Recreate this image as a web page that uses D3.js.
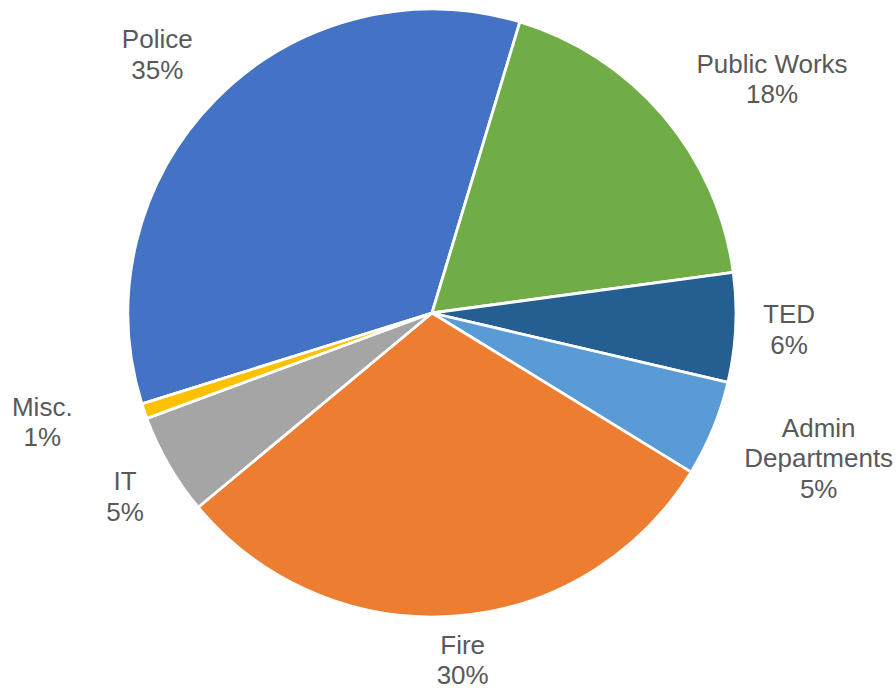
<!DOCTYPE html>
<html>
<head>
<meta charset="utf-8">
<script src="https://cdn.jsdelivr.net/npm/d3@7/dist/d3.min.js"></script>
<style>
  html, body { margin: 0; padding: 0; background: #ffffff; }
  svg { display: block; }
  text { font-family: "Liberation Sans", Arial, sans-serif; }
</style>
</head>
<body>
<svg id="chart" width="896" height="690"></svg>
<script>
// Budget share by department, listed clockwise starting with Police
const categories = ["Police", "Public Works", "TED", "Admin Departments", "Fire", "IT", "Misc."];
const labelLines = [["Police"], ["Public Works"], ["TED"], ["Admin", "Departments"], ["Fire"], ["IT"], ["Misc."]];
const shares = [34.5, 18.2, 5.8, 5.1, 30.2, 5.4, 0.8];
const colors = ["#4472C4", "#70AD47", "#255E91", "#5B9BD5", "#ED7D31", "#A5A5A5", "#FFC000"];

// Small per-label offsets that keep labels clear of each other
const labelNudge = [[-8, 5], [31, 29], [1, -1], [3, -13], [5, -13], [5, 3], [-42, -10]];

const width = 896, height = 690;
const cx = 432, cy = 313, radius = 304;
const firstSliceDeg = -107.4;
const lineH = 30.5, fontSize = 26, labelGap = 25;

const svg = d3.select("#chart");
const g = svg.append("g").attr("transform", `translate(${cx},${cy})`);

const data = categories.map((c, i) => ({ name: c, value: shares[i], color: colors[i], lines: labelLines[i], nudge: labelNudge[i] }));
const total = d3.sum(shares);

const start = firstSliceDeg * Math.PI / 180;
const pie = d3.pie()
  .value(d => d.value)
  .sort(null)
  .startAngle(start)
  .endAngle(start + 2 * Math.PI);

const arc = d3.arc().innerRadius(0).outerRadius(radius);
const arcs = pie(data);

g.selectAll("path.slice")
  .data(arcs)
  .join("path")
  .attr("class", "slice")
  .attr("d", arc)
  .attr("fill", d => d.data.color)
  .attr("stroke", "#ffffff")
  .attr("stroke-width", 2.8)
  .attr("stroke-linejoin", "round");

// Labels sit just outside each slice's mid-angle
const labels = g.selectAll("g.label")
  .data(arcs)
  .join("g")
  .attr("class", "label");

labels.each(function (d) {
  const sel = d3.select(this);
  const lines = d.data.lines.concat([Math.round(d.data.value / total * 100) + "%"]);
  const texts = sel.selectAll("text")
    .data(lines)
    .join("text")
    .attr("text-anchor", "middle")
    .attr("font-size", fontSize)
    .attr("fill", "#595959")
    .text(t => t);
  let w = 0;
  texts.each(function () { w = Math.max(w, this.getComputedTextLength()); });
  const h = lines.length * 30;
  const mid = (d.startAngle + d.endAngle) / 2;
  const dx = Math.sin(mid), dy = -Math.cos(mid);
  const support = Math.abs(dx) * w / 2 + Math.abs(dy) * h / 2;
  const dist = radius + labelGap + support;
  const lx = dx * dist + d.data.nudge[0];
  const ly = dy * dist + d.data.nudge[1];
  const n = lines.length;
  texts
    .attr("x", lx)
    .attr("y", (t, i) => ly + (i - (n - 1) / 2) * lineH + 9.3);
});
</script>
</body>
</html>
